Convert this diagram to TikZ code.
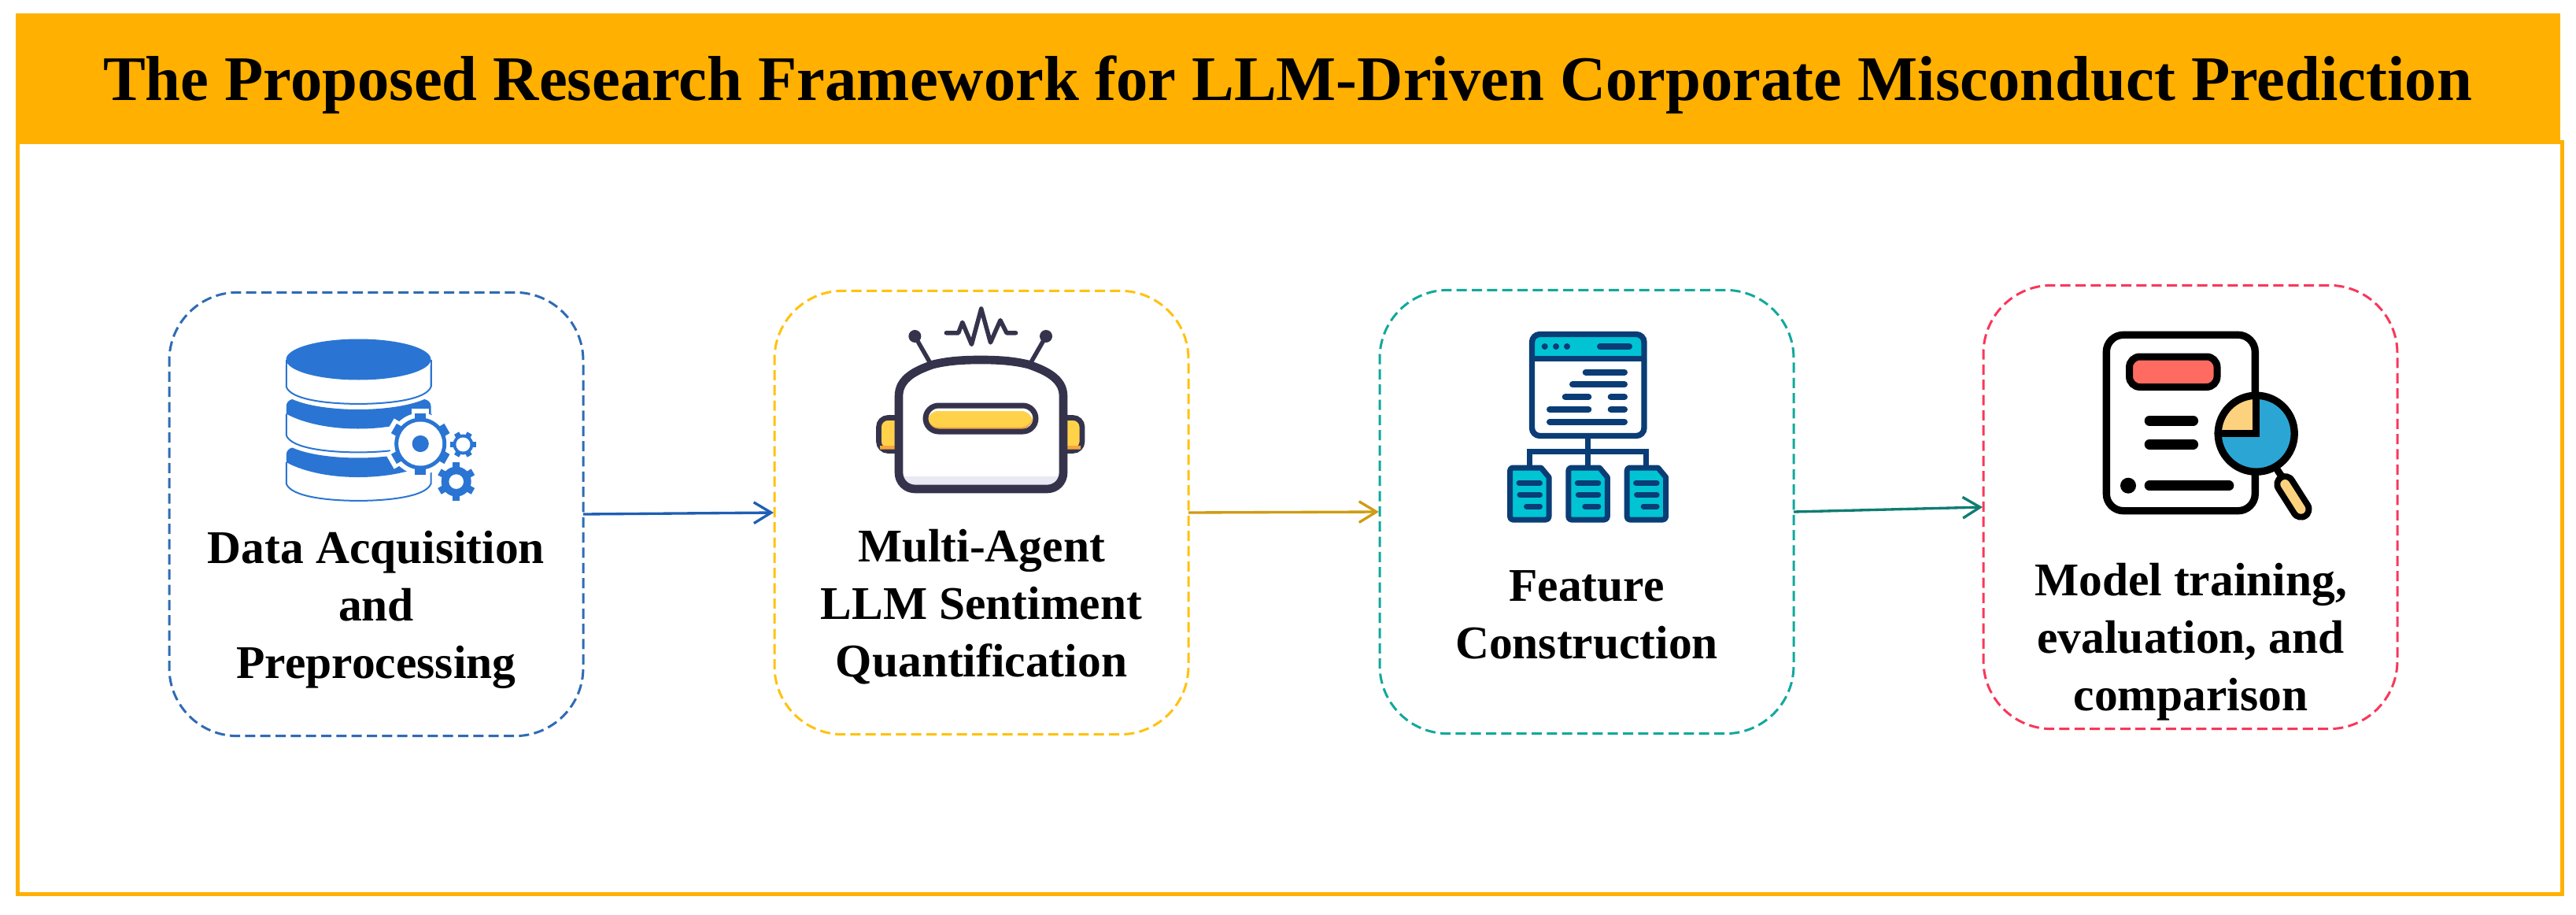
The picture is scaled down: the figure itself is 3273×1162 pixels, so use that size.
\documentclass[tikz,border=0pt]{standalone}
\usepackage{fontspec}
\setmainfont{Liberation Serif}
\usetikzlibrary{arrows.meta}
\definecolor{hdr}{HTML}{FFB000}
\definecolor{cblue}{HTML}{2E6BB5}
\definecolor{cyel}{HTML}{FFC20E}
\definecolor{cteal}{HTML}{12A89D}
\definecolor{cred}{HTML}{F9375A}
\definecolor{ablue}{HTML}{1F5FB4}
\definecolor{agold}{HTML}{CF9C14}
\definecolor{ateal}{HTML}{0F7D72}
\definecolor{dbblue}{HTML}{2A75D3}
\definecolor{robot}{HTML}{35334C}
\definecolor{visor}{HTML}{FFD24A}
\definecolor{visorb}{HTML}{F5A53C}
\definecolor{rlight}{HTML}{E8E9F3}
\definecolor{navy}{HTML}{0A3D76}
\definecolor{tealf}{HTML}{00C4D4}
\definecolor{redf}{HTML}{FF6B60}
\definecolor{bluef}{HTML}{2BA6D4}
\definecolor{orgf}{HTML}{FDD27E}
\newcommand{\gearicon}[7]{%
  \foreach \ga in {0,60,...,300}{\fill[#7,shift={(#1,#2)},rotate=\ga+#6] (0,-#5/2) rectangle (#4,#5/2);}
  \fill[#7] (#1,#2) circle (#3);}
\newcommand{\dblayer}[1]{%
  \begin{scope}[shift={(0,#1)}]
  \draw[dbblue,line width=0.6pt] (363.8,525.6) -- (363.8,552.8) .. controls (370,570) and (420,574.4) .. (455.5,574.4) .. controls (490,574.4) and (541,570) .. (547.5,552.8) -- (547.5,525.6);
  \end{scope}}
\newcommand{\dbband}[1]{%
  \begin{scope}[shift={(0,#1)}]
  \fill[dbblue] (363.8,525.6) -- (363.8,516) .. controls (363.8,511) and (367,508) .. (371.4,507) .. controls (410,524.3) and (500,524.3) .. (539.2,507) .. controls (544,508) and (547.5,511) .. (547.5,516) -- (547.5,525.6) .. controls (500,550.8) and (410,550.8) .. (363.8,525.6) -- cycle;
  \end{scope}}
\newcommand{\docicon}[1]{%
  \begin{scope}[shift={(#1,0)}]
  \draw[navy,fill=tealf,line width=2.1pt,line join=round] (1918.5,598) .. controls (1918.5,595.5) and (1920,594) .. (1922,594) -- (1958,594) -- (1968,606) -- (1968,656) .. controls (1968,658.5) and (1966.5,660) .. (1964,660) -- (1922,660) .. controls (1920,660) and (1918.5,658.5) .. (1918.5,656) -- cycle;
  \draw[navy,line width=2.1pt,line cap=round] (1930,613.3) -- (1956.5,613.3) (1931,628.3) -- (1956.5,628.3) (1939.5,643) -- (1956.5,643);
  \end{scope}}
\tikzset{
  flowbox/.style={draw=#1,line width=0.9pt,dash pattern=on 3.9pt off 1.9pt,rounded corners=26pt,minimum width=157.8pt,minimum height=169pt,inner sep=0pt,outer sep=0pt,fill=white},
  flowtext/.style={font=\fontsize{17.85}{21.9}\selectfont\bfseries,align=center,inner sep=0pt,anchor=base},
  flowarrow/.style={draw=#1,line width=1pt,-{Straight Barb[length=6.6pt,width=8pt,line width=1pt]},shorten >=0.3pt},
  navyline/.style={navy,line width=2.4pt,line cap=round},
  blackline/.style={black,line width=3.8pt,line cap=round},
  robotline/.style={robot,line width=1.65pt,line cap=round,line join=round}
}
\begin{document}
\begin{tikzpicture}[x=0.3pt,y=-0.3pt]
\useasboundingbox (0,0) rectangle (3273,1162);
\fill[white] (0,0) rectangle (3273,1162);
% frame and header
\node[draw=hdr,line width=1.5pt,minimum width=969.9pt,minimum height=286.65pt,inner sep=0pt,outer sep=0pt] (frame) at (1638.5,657.75) {};
\node[fill=hdr,minimum width=969.9pt,minimum height=48.9pt,inner sep=0pt,outer sep=0pt] (head) at (1636.5,98.5) {};
\node[font=\fontsize{24.19}{28}\selectfont\bfseries,inner sep=0pt,anchor=base] (title) at (1636,127) {The Proposed Research Framework for LLM-Driven Corporate Misconduct Prediction};
% boxes
\node[flowbox=cblue] (b1) at (478,653) {};
\node[flowbox=cyel] (b2) at (1247,651) {};
\node[flowbox=cteal] (b3) at (2016,650) {};
\node[flowbox=cred] (b4) at (2783,644) {};
% arrows
\draw[flowarrow=ablue] (b1.east) -- (b2.west);
\draw[flowarrow=agold] (b2.east) -- (b3.west);
\draw[flowarrow=ateal] (b3.east) -- (b4.west);
% labels
\node[flowtext] (t1) at (478,861.5) {Data Acquisition\\and\\Preprocessing};
\node[flowtext] (t2) at (1247,859.6) {Multi-Agent\\LLM Sentiment\\Quantification};
\node[flowtext] (t3) at (2016,836) {Feature\\Construction};
\node[flowtext] (t4) at (2783.5,902) {Model training,\\evaluation, and\\comparison};
% database icon
\dblayer{-61.5}\dblayer{0}\dblayer{61.5}
\dbband{0}\dbband{61.5}
\fill[dbblue] (455.5,456.5) ellipse (92 and 26);
\draw[dbblue,line width=0.6pt] (363.8,456.5) -- (363.8,491.3) (547.5,456.5) -- (547.5,491.3);
\gearicon{534.2}{563.5}{39}{45}{22}{30}{white}
\gearicon{534.2}{563.5}{33}{39}{14}{30}{dbblue}
\fill[white] (534.2,563.5) circle (28);
\fill[dbblue] (534.2,563.5) circle (10.6);
\gearicon{588.4}{564.5}{13}{16.6}{7}{0}{dbblue}
\fill[white] (588.4,564.5) circle (9);
\gearicon{579.7}{611.6}{19}{24.5}{9}{30}{dbblue}
\fill[white] (579.7,611.6) circle (9.3);
% robot icon
\draw[robotline] (1162.4,427) -- (1181.3,460) (1329,427) -- (1310,460);
\fill[robot] (1162.4,427) circle (8) (1329,427) circle (8);
\draw[robotline,line cap=round] (1202.3,422.8) -- (1217.7,422.8) -- (1222.8,409.4) -- (1234.5,437.4) -- (1246.7,392) -- (1258.5,435) -- (1271,406.7) -- (1279,422.8) -- (1290.6,422.8);
\draw[robot,fill=visor,line width=2pt,rounded corners=3.5pt] (1116.5,530.5) rectangle (1150,572.5);
\draw[robot,fill=visor,line width=2pt,rounded corners=3.5pt] (1342,530.5) rectangle (1375,572.5);
\fill[visorb] (1118,566) rectangle (1140,570.5) (1352,566) rectangle (1373,570.5);
\path[fill=white] (1142,503) .. controls (1142,480) and (1165,470) .. (1185,463) .. controls (1205,458) and (1225,457) .. (1246,457) .. controls (1267,457) and (1287,458) .. (1307,463) .. controls (1327,470) and (1351,480) .. (1351,503) -- (1351,600) .. controls (1351,612) and (1342,621) .. (1330,621) -- (1163,621) .. controls (1151,621) and (1142,612) .. (1142,600) -- cycle;
\fill[rlight] (1146,605.3) rectangle (1346,618);
\draw[robot,line width=3.2pt] (1142,503) .. controls (1142,480) and (1165,470) .. (1185,463) .. controls (1205,458) and (1225,457) .. (1246,457) .. controls (1267,457) and (1287,458) .. (1307,463) .. controls (1327,470) and (1351,480) .. (1351,503) -- (1351,600) .. controls (1351,612) and (1342,621) .. (1330,621) -- (1163,621) .. controls (1151,621) and (1142,612) .. (1142,600) -- cycle;
\fill[visorb,rounded corners=4.5pt] (1178,522) rectangle (1312,545);
\fill[visor,rounded corners=4.5pt] (1178,522) rectangle (1312,542.5);
\draw[robot,line width=2.1pt,rounded corners=5pt] (1176,515) rectangle (1316,548);
% feature icon
\fill[tealf] (1946.5,424.5) rectangle (2089,455.5);
\draw[navy,line width=2.2pt,rounded corners=3pt] (1946.5,424.5) rectangle (2089,553.5);
\draw[navy,line width=2.2pt] (1946.5,455.5) -- (2089,455.5);
\fill[navy] (1962.7,440) circle (4) (1977,440) circle (4) (1991,440) circle (4);
\draw[navyline] (2033,440) -- (2070,440) (2014.7,472.7) -- (2064,472.7) (1998,488.3) -- (2064,488.3) (1988.7,504) -- (2018.3,504) (2046.7,504) -- (2064,504) (1969,520) -- (2018.3,520) (2046.7,520) -- (2064,520) (1969,535.7) -- (2064,535.7);
\draw[navy,line width=2.1pt] (2017.7,557) -- (2017.7,592) (1943.3,592) -- (1943.3,573.3) -- (2091.7,573.3) -- (2091.7,592);
\docicon{0}\docicon{74.3}\docicon{148.6}
% report icon
\draw[black,line width=2.8pt,rounded corners=6.5pt,fill=white] (2676.3,425.3) rectangle (2865.3,648.7);
\draw[black,fill=redf,line width=2.7pt,rounded corners=4pt] (2705.5,453) rectangle (2817,491.5);
\draw[blackline] (2731,534.3) -- (2786.7,534.3) (2731,564.3) -- (2786.7,564.3) (2731,616.7) -- (2832,616.7);
\fill[black] (2704,616.7) circle (10);
\draw[black,line width=2.7pt] (2893,596) -- (2905,614);
\draw[black,line width=8.4pt,line cap=round] (2903.3,615) -- (2923.5,646.7);
\draw[orgf,line width=3.6pt,line cap=round] (2903.3,615) -- (2923.5,646.7);
\fill[bluef] (2866.7,550.7) circle (48.5);
\begin{scope}
\clip (2866.7,550.7) circle (48.5);
\fill[orgf] (2810,490) rectangle (2866.7,550.7);
\end{scope}
\draw[black,line width=2.8pt] (2866.7,550.7) circle (48.5);
\draw[black,line width=2.8pt,line cap=round] (2866.7,502) -- (2866.7,550.7) -- (2818,550.7);
\end{tikzpicture}
\end{document}
